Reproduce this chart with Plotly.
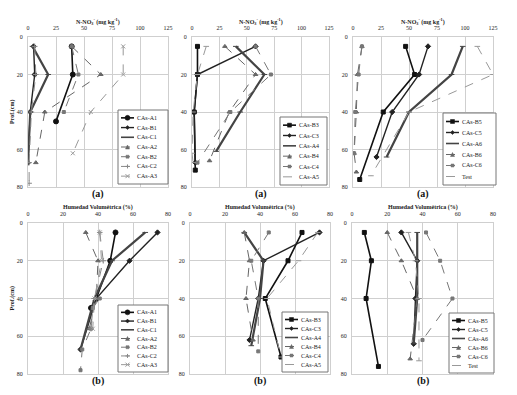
import plotly.graph_objects as go

# ---------------- data ----------------
# Top row: N-NO3 (mg kg-1) vs depth (cm)
p1_names = ["CAs-A1", "CAs-B1", "CAs-C1", "CAs-A2", "CAs-B2", "CAs-C2", "CAs-A3"]
p1_depth = [[5, 20, 45], [5, 20, 40, 67], [5, 20, 40, 67], [5, 20, 40, 67],
            [5, 20, 40], [5, 20, 40, 67, 78], [5, 20, 40, 62]]
p1_vals = [[39, 40, 25], [5, 6, 2, 0], [4, 18, 2, 0], [39, 65, 15, 7],
           [39, 45, 32], [6, 7, 3, 1, 1], [85, 85, 56, 40]]

p2_names = ["CAs-B3", "CAs-C3", "CAs-A4", "CAs-B4", "CAs-C4", "CAs-A5"]
p2_depth = [[5, 20, 40, 71], [5, 20, 40, 67], [5, 20, 40, 61], [5, 20, 40, 66],
            [5, 20, 40, 67], [5, 20, 40, 62, 67]]
p2_vals = [[5, 5, 2, 3], [58, 5, 2, 3], [40, 66, 44, 22], [30, 58, 34, 16],
           [58, 72, 35, 5], [13, 5, 1, 0, 1]]

p3_names = ["CAs-B5", "CAs-C5", "CAs-A6", "CAs-B6", "CAs-C6", "Test"]
p3_depth = [[5, 20, 40, 76], [5, 20, 40, 64], [5, 20, 40, 64], [5, 20, 40, 62, 72],
            [5, 20, 40, 62], [5, 20, 40, 74]]
p3_vals = [[47, 55, 27, 6], [67, 59, 35, 21], [98, 88, 50, 30], [8, 4, 3, 1, 3],
           [8, 5, 2, 1], [111, 125, 50, 16]]

# Bottom row: Humedad volumétrica (%) vs depth (cm)
b1_depth = [[5, 20, 40, 45], [5, 20, 40, 67], [5, 20, 40, 67], [5, 20, 40, 56],
            [40, 45, 56, 67, 78], [5, 20, 40, 56], [5, 20, 40, 56]]
b1_vals = [[50, 47, 39, 36], [74, 58, 39, 30], [67, 48, 38, 30], [33, 40, 39, 35],
           [41, 37, 36, 31, 30], [41, 43, 38, 36], [41, 42, 38, 37]]

b2_depth = [[5, 20, 40, 71], [5, 20, 40, 62], [5, 20, 40, 65], [5, 20, 40, 62],
            [5, 20, 40, 68], [5, 20, 40, 71]]
b2_vals = [[64, 56, 43, 52], [74, 42, 39, 34], [31, 42, 40, 35], [31, 34, 32, 36],
           [45, 35, 39, 39], [73, 62, 44, 52]]

b3_depth = [[5, 20, 40, 76], [5, 20, 40, 64], [5, 20, 40, 64], [5, 20, 40, 72],
            [5, 20, 40, 62], [5, 20, 40, 73]]
b3_vals = [[7, 11, 8, 15], [28, 37, 36, 35], [37, 37, 37, 35], [20, 28, 37, 33],
           [42, 50, 57, 40], [32, 36, 38, 38]]

top_title = "N-NO<sub>3</sub><sup>-</sup> (mg kg<sup>-1</sup>)"
bot_title = "Humedad Volumétrica (%)"
top_ticks = [0, 25, 50, 75, 100, 125]
bot_ticks = [0, 20, 40, 60, 80]
depth_ticks = [0, 20, 40, 60, 80]

# ---------------- styles ----------------
styles7 = [
    dict(color="#111", width=1.6, dash="solid", symbol="circle", size=5),
    dict(color="#222", width=1.4, dash="solid", symbol="diamond", size=4),
    dict(color="#444", width=2.2, dash="solid", symbol="line-ew", size=4),
    dict(color="#666", width=1.0, dash="dash", symbol="triangle-up", size=4),
    dict(color="#777", width=1.0, dash="dash", symbol="square", size=3),
    dict(color="#888", width=1.0, dash="dash", symbol="cross-thin", size=4),
    dict(color="#999", width=1.0, dash="dash", symbol="x-thin", size=4),
]
styles6 = [
    dict(color="#111", width=1.6, dash="solid", symbol="square", size=4),
    dict(color="#222", width=1.4, dash="solid", symbol="diamond", size=4),
    dict(color="#444", width=2.2, dash="solid", symbol="line-ew", size=4),
    dict(color="#666", width=1.0, dash="dash", symbol="triangle-up", size=4),
    dict(color="#777", width=1.0, dash="dash", symbol="square", size=3),
    dict(color="#999", width=1.0, dash="dash", symbol="line-ew", size=4),
]

# page body has an 8px margin: work in reference pixels, shift by OFF
OFF = 8
W, H = 501, 379
def PX(px):
    return (px - OFF) / W
def PY(py):
    return 1 - (py - OFF) / H

panels = [
    # names, depths, vals, styles, (left,right,top,bottom) px, xrange, xticks, title, legend box (l,t,r,b)
    (p1_names, p1_depth, p1_vals, styles7, (28, 168, 37, 187), [0, 125], top_ticks, top_title, (118, 110, 168, 184)),
    (p2_names, p2_depth, p2_vals, styles6, (192, 329, 37, 187), [0, 125], top_ticks, top_title, (280, 117, 327, 185)),
    (p3_names, p3_depth, p3_vals, styles6, (353, 493, 37, 187), [0, 125], top_ticks, top_title, (443, 113, 496, 185)),
    (p1_names, b1_depth, b1_vals, styles7, (28, 168, 223, 374), [0, 80], bot_ticks, bot_title, (118, 305, 168, 372)),
    (p2_names, b2_depth, b2_vals, styles6, (190, 330, 223, 374), [0, 80], bot_ticks, bot_title, (282, 312, 328, 372)),
    (p3_names, b3_depth, b3_vals, styles6, (352, 493, 223, 374), [0, 80], bot_ticks, bot_title, (449, 313, 494, 373)),
]

FONT = "Liberation Serif"
fig = go.Figure()
layout = dict(
    width=W, height=H, margin=dict(l=0, r=0, t=0, b=0),
    paper_bgcolor="white", plot_bgcolor="white",
    font=dict(family=FONT, size=6, color="#222"),
    showlegend=False,
)
shapes = []
annotations = []

def ann(x, y, text, size=6, color="#222", xanchor="center", angle=0):
    return dict(x=x, y=y, xref="paper", yref="paper", text=text, showarrow=False,
                xanchor=xanchor, yanchor="middle", textangle=angle,
                font=dict(size=size, family=FONT, color=color))

def symbol_shapes(sym, cx, cy, s, color):
    r = s / 2.0
    out = []
    if sym == "circle":
        out.append(dict(type="circle", xref="paper", yref="paper",
                        x0=PX(cx - r), x1=PX(cx + r), y0=PY(cy + r), y1=PY(cy - r),
                        fillcolor=color, line=dict(color=color, width=0.5)))
    elif sym == "square":
        out.append(dict(type="rect", xref="paper", yref="paper",
                        x0=PX(cx - r), x1=PX(cx + r), y0=PY(cy + r), y1=PY(cy - r),
                        fillcolor=color, line=dict(color=color, width=0.5)))
    elif sym == "diamond":
        p = f"M {PX(cx-r)},{PY(cy)} L {PX(cx)},{PY(cy-r)} L {PX(cx+r)},{PY(cy)} L {PX(cx)},{PY(cy+r)} Z"
        out.append(dict(type="path", xref="paper", yref="paper", path=p,
                        fillcolor=color, line=dict(color=color, width=0.5)))
    elif sym == "triangle-up":
        p = f"M {PX(cx-r)},{PY(cy+r)} L {PX(cx)},{PY(cy-r)} L {PX(cx+r)},{PY(cy+r)} Z"
        out.append(dict(type="path", xref="paper", yref="paper", path=p,
                        fillcolor=color, line=dict(color=color, width=0.5)))
    elif sym == "cross-thin":
        p = f"M {PX(cx-r)},{PY(cy)} L {PX(cx+r)},{PY(cy)} M {PX(cx)},{PY(cy-r)} L {PX(cx)},{PY(cy+r)}"
        out.append(dict(type="path", xref="paper", yref="paper", path=p,
                        line=dict(color=color, width=1)))
    elif sym == "x-thin":
        p = f"M {PX(cx-r)},{PY(cy-r)} L {PX(cx+r)},{PY(cy+r)} M {PX(cx-r)},{PY(cy+r)} L {PX(cx+r)},{PY(cy-r)}"
        out.append(dict(type="path", xref="paper", yref="paper", path=p,
                        line=dict(color=color, width=1)))
    return out

for i, (names, depths, vals, sty, box, xr, xt, title, lbox) in enumerate(panels):
    k = i + 1
    xa = "x" if k == 1 else f"x{k}"
    ya = "y" if k == 1 else f"y{k}"
    L, R, T, B = box
    for n, d, v, s in zip(names, depths, vals, sty):
        fig.add_trace(go.Scatter(
            x=v, y=d, name=n, mode="lines+markers", xaxis=xa, yaxis=ya,
            line=dict(color=s["color"], width=s["width"], dash=s["dash"]),
            marker=dict(symbol=s["symbol"], size=s["size"], color=s["color"],
                        line=dict(color=s["color"], width=1)),
        ))
    xkey = "xaxis" if k == 1 else f"xaxis{k}"
    ykey = "yaxis" if k == 1 else f"yaxis{k}"
    layout[xkey] = dict(
        domain=[PX(L), PX(R)], anchor=ya, side="top", range=xr, tickvals=xt,
        showgrid=True, gridcolor="#cfcfcf", gridwidth=1, zeroline=False,
        showline=True, linecolor="#cfcfcf", mirror=True, ticks="", automargin=False,
        tickfont=dict(size=6, family=FONT), ticklabelstandoff=4,
    )
    layout[ykey] = dict(
        domain=[PY(B), PY(T)], anchor=xa, range=[80, 0], tickvals=depth_ticks,
        showgrid=True, gridcolor="#cfcfcf", gridwidth=1, zeroline=False,
        showline=True, linecolor="#cfcfcf", mirror=True, ticks="", automargin=False,
        tickfont=dict(size=6, family=FONT), ticklabelstandoff=3,
    )
    # axis title (top)
    annotations.append(ann(PX((L + R) / 2), PY(T - 16), f"<b>{title}</b>"))
    if k in (1, 4):
        annotations.append(ann(PX(12), PY((T + B) / 2), "<b>Prof.(cm)</b>", angle=-90))
    # panel label
    annotations.append(ann(PX((L + R) / 2), PY(B + 7), "<b>(a)</b>" if k <= 3 else "<b>(b)</b>",
                           size=10, color="#111"))
    # legend box drawn by hand (compact, like the original)
    ll, lt, lr, lb = lbox
    shapes.append(dict(type="rect", xref="paper", yref="paper",
                       x0=PX(ll), x1=PX(lr), y0=PY(lb), y1=PY(lt),
                       fillcolor="white", line=dict(color="#777", width=1), layer="above"))
    n_items = len(names)
    step = (lb - lt - 6) / n_items
    for j, (n, s) in enumerate(zip(names, sty)):
        cy = lt + 3 + step * (j + 0.5)
        shapes.append(dict(type="line", xref="paper", yref="paper",
                           x0=PX(ll + 3), x1=PX(ll + 16), y0=PY(cy), y1=PY(cy),
                           line=dict(color=s["color"], width=min(s["width"], 1.6), dash=s["dash"]),
                           layer="above"))
        if s["symbol"] != "line-ew":
            for sh in symbol_shapes(s["symbol"], ll + 9.5, cy, s["size"], s["color"]):
                sh["layer"] = "above"
                shapes.append(sh)
        annotations.append(ann(PX(ll + 17), PY(cy), n, xanchor="left"))

layout["shapes"] = shapes
layout["annotations"] = annotations
fig.update_layout(**layout)

fig.write_html("out.html")
